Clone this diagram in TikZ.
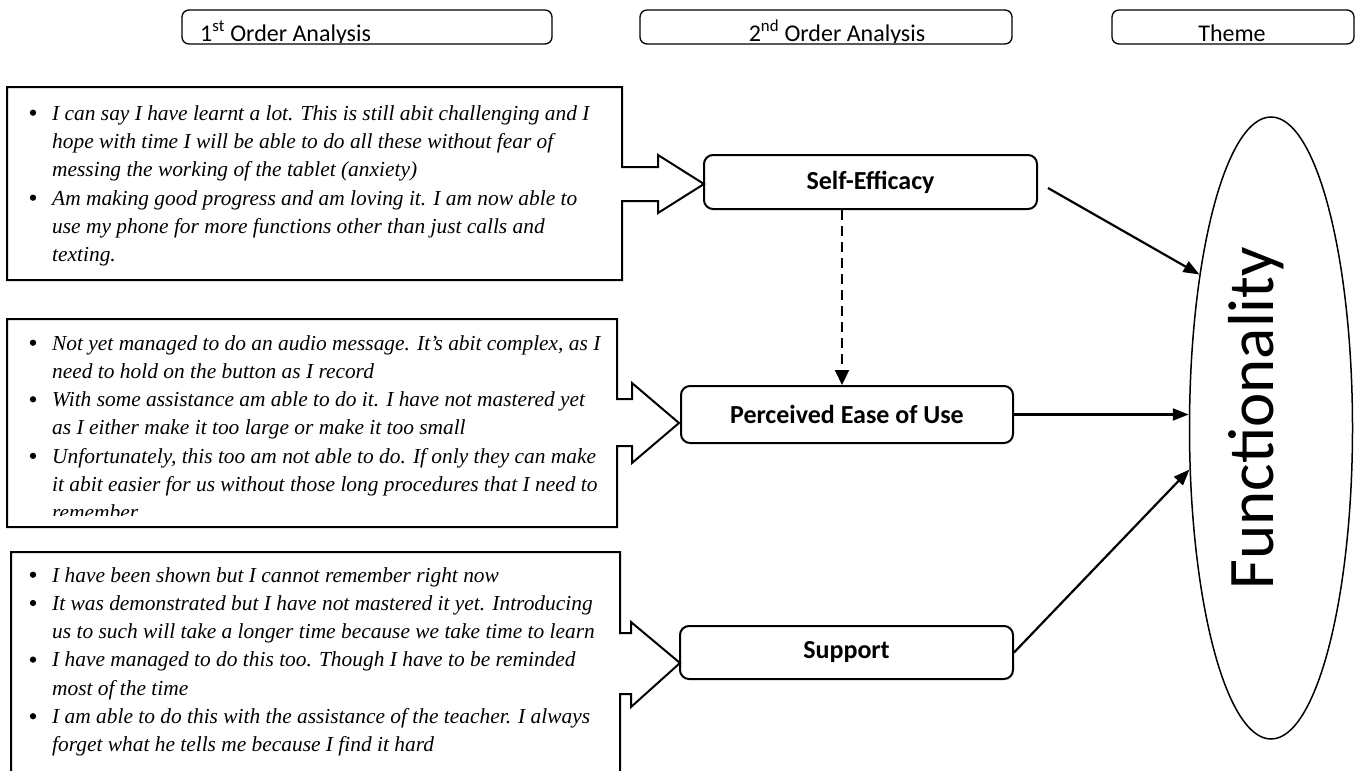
\documentclass[tikz,border=0pt]{standalone}
\usepackage{fontspec}
\setmainfont{Liberation Serif}
\newfontfamily\calfont{Carlito}
\usetikzlibrary{arrows.meta,shapes.geometric}
\newcommand\tln[3]{\node[txt] (#1) at (52,#2) {#3};}
\newcommand\bln[2]{\node[bul] (#1) at (33,#2-7.3) {};}
\begin{document}
\begin{tikzpicture}[x=1pt,y=-1pt,
  hdr/.style={draw, line width=1.3pt, rounded corners=7pt, inner sep=0pt},
  mid/.style={draw, line width=2pt, rounded corners=9pt, inner sep=0pt,
    font=\calfont\bfseries\fontsize{26}{30}\selectfont},
  blk/.style={draw, line width=2pt, line join=miter},
  txt/.style={anchor=base west, inner sep=0pt, font=\itshape\fontsize{21.4}{28}\selectfont},
  bul/.style={circle, fill, inner sep=0pt, minimum size=6.3pt},
  htxt/.style={anchor=base, inner sep=0pt, font=\calfont\fontsize{24}{28}\selectfont},
  arr/.style={line width=2.2pt, -{Triangle[length=16pt,width=12pt]}},
]
\useasboundingbox (0,0) rectangle (1355,771);

% header boxes
\node[hdr, minimum width=370pt, minimum height=34pt] (h1) at (367,27) {};
\node[hdr, minimum width=372pt, minimum height=34pt] (h2) at (826,27) {};
\node[hdr, minimum width=242pt, minimum height=34pt] (h3) at (1233,27) {};
\begin{scope}
\clip (0,0) rectangle (1355,42);
\node[htxt, anchor=base west] (t1) at (200,41) {1\textsuperscript{st} Order Analysis};
\node[htxt] (t2) at (837,41) {2\textsuperscript{nd} Order Analysis};
\node[htxt] (t3) at (1232,41) {Theme};
\end{scope}

% block A with arrow
\draw[blk] (7,87) -- (622,87) -- (622,167) -- (658,167) -- (658,155) -- (704,184)
  -- (658,213) -- (658,201) -- (622,201) -- (622,280) -- (7,280) -- cycle;
\bln{ba1}{120}
\tln{a1}{120}{I can say I have learnt a lot. This is still abit challenging and I}
\tln{a2}{148.3}{hope with time I will be able to do all these without fear of}
\tln{a3}{176.6}{messing the working of the tablet (anxiety)}
\bln{ba2}{205}
\tln{a4}{205}{Am making good progress and am loving it. I am now able to}
\tln{a5}{233.3}{use my phone for more functions other than just calls and}
\tln{a6}{261.6}{texting.}

% block B with arrow
\draw[blk] (7,319) -- (617,319) -- (617,399) -- (632,399) -- (632,383) -- (679,423)
  -- (632,463) -- (632,446) -- (617,446) -- (617,527) -- (7,527) -- cycle;
\bln{bb1}{350}
\tln{b1}{350}{Not yet managed to do an audio message. It’s abit complex, as I}
\tln{b2}{378.3}{need to hold on the button as I record}
\bln{bb2}{406.6}
\tln{b3}{406.6}{With some assistance am able to do it. I have not mastered yet}
\tln{b4}{434.9}{as I either make it too large or make it too small}
\bln{bb3}{463.2}
\tln{b5}{463.2}{Unfortunately, this too am not able to do. If only they can make}
\tln{b6}{491.5}{it abit easier for us without those long procedures that I need to}
\begin{scope}
\clip (0,300) rectangle (700,515);
\tln{b7}{519.8}{remember}
\end{scope}

% block C with arrow
\draw[blk] (11,780) -- (11,552) -- (620,552) -- (620,633) -- (631,633) -- (631,622) -- (680,663)
  -- (631,707) -- (631,694) -- (620,694) -- (620,780);
\bln{bc1}{582}
\tln{c1}{582}{I have been shown but I cannot remember right now}
\bln{bc2}{610.3}
\tln{c2}{610.3}{It was demonstrated but I have not mastered it yet. Introducing}
\tln{c3}{638.6}{us to such will take a longer time because we take time to learn}
\bln{bc3}{666.9}
\tln{c4}{666.9}{I have managed to do this too. Though I have to be reminded}
\tln{c5}{695.2}{most of the time}
\bln{bc4}{723.5}
\tln{c6}{723.5}{I am able to do this with the assistance of the teacher. I always}
\tln{c7}{751.8}{forget what he tells me because I find it hard}

% second order boxes
\node[mid, minimum width=333pt, minimum height=54pt] (se) at (870.5,182) {Self-Efficacy};
\node[mid, minimum width=332pt, minimum height=57pt] (peu) at (847,414.5) {Perceived Ease of Use};
\node[mid, minimum width=333pt, minimum height=53pt] (sup) at (846.5,652.5) {Support};

% theme ellipse
\node[draw, ellipse, line width=1.5pt, minimum width=163pt, minimum height=622pt, inner sep=0pt] (func) at (1271,428) {};
\node[rotate=90, inner sep=0pt, font=\calfont\fontsize{65}{68}\selectfont] (ftxt) at (1256,418) {Functionality};

% connectors
\draw[line width=2.2pt, dash pattern=on 10pt off 6pt, -{Triangle[length=15pt,width=14pt]}] (se.south -| 842,0) -- (peu.north -| 842,0);
\coordinate (s1) at ([xshift=10pt,yshift=-6pt]se.east);
\draw[arr] (s1) -- (func.115.6);
\draw[arr] (peu.east) -- (peu.east -| func.west);
\draw[arr] (sup.east) -- (func.207.7);
\end{tikzpicture}
\end{document}
